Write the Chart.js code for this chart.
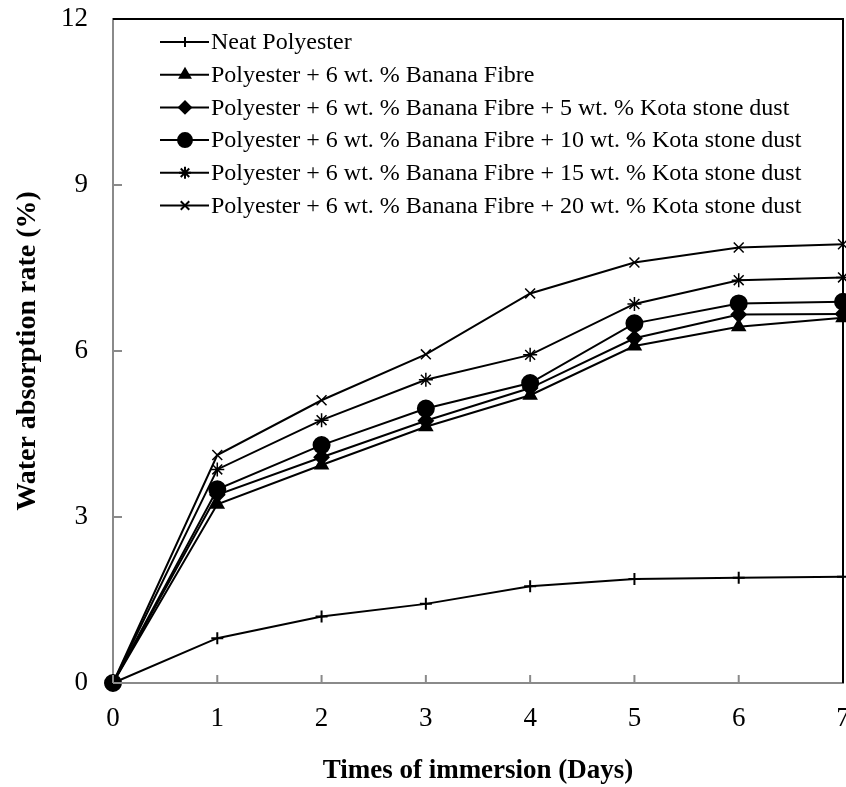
<!DOCTYPE html>
<html>
<head>
<meta charset="utf-8">
<style>
  html, body { margin: 0; padding: 0; background: #fff; overflow: hidden; }
  #wrap { width: 870px; height: 787px; }
</style>
<script src="https://cdn.jsdelivr.net/npm/chart.js@4.4.0/dist/chart.umd.min.js"></script>
</head>
<body>
<div id="wrap"><canvas id="absorptionChart" width="870" height="787"></canvas></div>
<script>
// data
var days = [0, 1, 2, 3, 4, 5, 6, 7];
var neatPolyester = [0, 0.81, 1.20, 1.43, 1.75, 1.88, 1.90, 1.92];
var banana6 = [0, 3.23, 3.94, 4.63, 5.20, 6.09, 6.44, 6.60];
var kota5 = [0, 3.40, 4.08, 4.74, 5.33, 6.23, 6.66, 6.67];
var kota10 = [0, 3.50, 4.30, 4.96, 5.42, 6.50, 6.86, 6.89];
var kota15 = [0, 3.86, 4.75, 5.48, 5.93, 6.85, 7.28, 7.33];
var kota20 = [0, 4.12, 5.11, 5.94, 7.04, 7.60, 7.87, 7.93];

var seriesLabels = [
  'Neat Polyester',
  'Polyester + 6 wt. % Banana Fibre',
  'Polyester + 6 wt. % Banana Fibre + 5 wt. % Kota stone dust',
  'Polyester + 6 wt. % Banana Fibre + 10 wt. % Kota stone dust',
  'Polyester + 6 wt. % Banana Fibre + 15 wt. % Kota stone dust',
  'Polyester + 6 wt. % Banana Fibre + 20 wt. % Kota stone dust'
];
var xTicks = [0, 1, 2, 3, 4, 5, 6, 7];
var yTicks = [0, 3, 6, 9, 12];

var allSeries = [neatPolyester, banana6, kota5, kota10, kota15, kota20];
var markers = [
  { style: 'cross', radius: 6 },
  { style: 'triangle', radius: 7 },
  { style: 'rectRot', radius: 7 },
  { style: 'circle', radius: 8 },
  { style: 'star', radius: 7 },
  { style: 'crossRot', radius: 7 }
];

var serif = '"Liberation Serif", "Times New Roman", serif';

var datasets = allSeries.map(function(vals, i) {
  return {
    label: seriesLabels[i],
    data: vals.map(function(v, j) { return { x: days[j], y: v }; }),
    borderColor: '#000',
    backgroundColor: '#000',
    borderWidth: 2,
    tension: 0,
    pointStyle: markers[i].style,
    pointRadius: markers[i].radius,
    pointBorderWidth: (markers[i].style == 'star' || markers[i].style == 'crossRot') ? 1.5 : 2,
    pointBorderColor: '#000',
    pointBackgroundColor: '#000',
    clip: false
  };
});

// inside ticks, black top/right frame and the line+marker legend
var framePlugin = {
  id: 'framePlugin',
  afterDraw: function(chart) {
    var ctx = chart.ctx;
    var a = chart.chartArea;
    var xs = chart.scales.x, ys = chart.scales.y;
    ctx.save();
    ctx.strokeStyle = '#8a8a8a';
    ctx.lineWidth = 2;
    xTicks.forEach(function(v) {
      var px = xs.getPixelForValue(v);
      ctx.beginPath(); ctx.moveTo(px, a.bottom); ctx.lineTo(px, a.bottom - 8); ctx.stroke();
    });
    yTicks.forEach(function(v) {
      var py = ys.getPixelForValue(v);
      ctx.beginPath(); ctx.moveTo(a.left, py); ctx.lineTo(a.left + 9, py); ctx.stroke();
    });
    ctx.strokeStyle = '#000';
    ctx.beginPath();
    ctx.moveTo(a.left, a.top); ctx.lineTo(a.right, a.top); ctx.lineTo(a.right, a.bottom);
    ctx.stroke();

    // legend
    var lx = a.left + 47, ly = a.top + 23, rowH = 32.7;
    ctx.font = '24px ' + serif;
    ctx.textBaseline = 'middle';
    ctx.textAlign = 'left';
    chart.data.datasets.forEach(function(ds, i) {
      var y = ly + i * rowH;
      ctx.strokeStyle = '#000';
      ctx.fillStyle = '#000';
      ctx.lineWidth = 2;
      ctx.beginPath(); ctx.moveTo(lx, y); ctx.lineTo(lx + 49, y); ctx.stroke();
      Chart.helpers.drawPoint(ctx, {
        pointStyle: ds.pointStyle,
        radius: Math.max(ds.pointRadius - 1, 5),
        rotation: 0,
        borderWidth: ds.pointBorderWidth
      }, lx + 25, y);
      ctx.fillStyle = '#000';
      ctx.fillText(ds.label, lx + 51, y + 1);
    });
    ctx.restore();
  }
};

new Chart(document.getElementById('absorptionChart'), {
  type: 'line',
  data: { datasets: datasets },
  options: {
    responsive: false,
    animation: false,
    layout: { padding: { left: 11, right: 27, top: 19, bottom: 0 } },
    plugins: { legend: { display: false }, tooltip: { enabled: false } },
    scales: {
      x: {
        type: 'linear',
        min: 0,
        max: 7,
        afterFit: function(scale) {
          scale.height = 104;
          scale.paddingLeft = 0;
          scale.paddingRight = 0;
        },
        grid: { display: false, drawTicks: false },
        border: { display: true, color: '#8a8a8a', width: 2 },
        ticks: {
          stepSize: 1,
          padding: 20,
          color: '#000',
          font: { family: serif, size: 27 }
        },
        title: {
          display: true,
          text: 'Times of immersion (Days)',
          color: '#000',
          padding: 0,
          font: { family: serif, size: 27, weight: 'bold' }
        }
      },
      y: {
        min: 0,
        max: 12,
        afterFit: function(scale) {
          scale.width = 102;
          scale.paddingTop = 0;
          scale.paddingBottom = 0;
        },
        grid: { display: false, drawTicks: false },
        border: { display: true, color: '#8a8a8a', width: 2 },
        ticks: {
          stepSize: 3,
          padding: 25,
          color: '#000',
          font: { family: serif, size: 27 }
        },
        title: {
          display: true,
          text: 'Water absorption rate (%)',
          color: '#000',
          padding: 0,
          font: { family: serif, size: 28, weight: 'bold' }
        }
      }
    }
  },
  plugins: [framePlugin]
});
</script>
</body>
</html>
